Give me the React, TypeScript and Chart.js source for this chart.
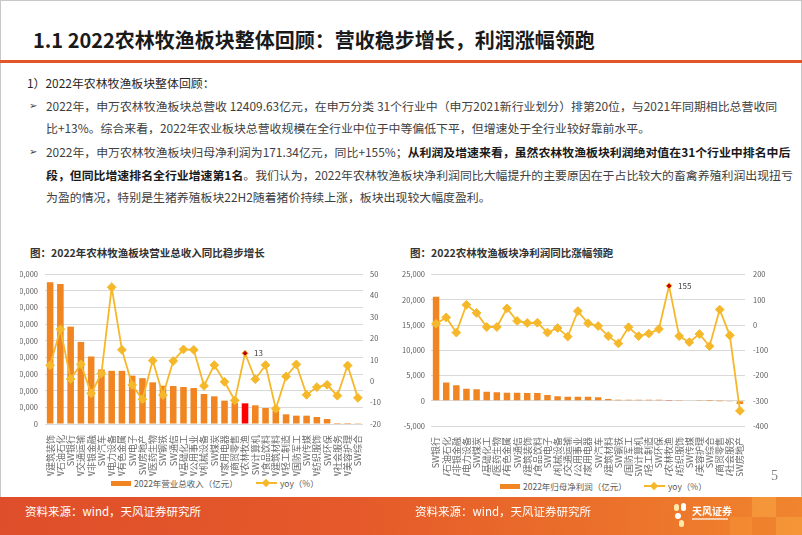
import React, { useEffect, useRef } from "react";
import { Chart, registerables } from "chart.js";

Chart.register(...registerables);

const FONT = '"Noto Sans CJK SC", "Noto Sans", sans-serif';
const BAR = "#F08521";
const BAR_HI = "#FF0000";
const LINE = "#F6B82B";
const GRID = "#D9D9D9";
const TICK = "#595959";
const HIGHLIGHT = "SW农林牧渔";

// ---- Left chart: 2022 revenue (亿元) and yoy (%) ----
const revCategories = [
  "SW建筑装饰", "SW石油石化", "SW银行", "SW交通运输", "SW非银金融", "SW汽车", "SW电力设备",
  "SW有色金属", "SW电子", "SW房地产", "SW医药生物", "SW钢铁", "SW通信", "SW基础化工",
  "SW公用事业", "SW机械设备", "SW煤炭", "SW家用电器", "SW商贸零售", "SW农林牧渔", "SW计算机",
  "SW食品饮料", "SW建筑材料", "SW轻工制造", "SW国防军工", "SW传媒", "SW纺织服饰", "SW环保",
  "SW社会服务", "SW美容护理", "SW综合",
];
const revValues = [
  85000, 84000, 58400, 49200, 40500, 32700, 31900, 31900, 29000, 27500, 25000, 23000, 22800,
  22200, 21600, 18000, 16600, 14000, 12600, 12409.63, 11200, 9600, 8000, 5800, 5000, 5000,
  4200, 3000, 600, 600, 500,
];
const revYoy = [
  7.4, 24.2, 1, 7.9, -5.7, 3.6, 43.8, 14.6, -1.8, -8.5, 9.6, -6.5, 9.4, 14.8, 14.6, -2.2,
  7.5, -0.3, -9, 13, 0.9, 7.5, -12.9, 2.2, 7.8, -6.4, -2.8, -1.7, -6.8, 7.3, -7.8,
];
const revLeftTicks = { min: 0, max: 90000, step: 10000 };
const revRightTicks = { min: -20, max: 50, step: 10 };

// ---- Right chart: 2022 net profit attributable (亿元) and yoy (%) ----
const profCategories = [
  "SW银行", "SW石油石化", "SW非银金融", "SW电力设备", "SW煤炭", "SW基础化工", "SW医药生物",
  "SW有色金属", "SW通信", "SW建筑装饰", "SW食品饮料", "SW电子", "SW机械设备", "SW交通运输",
  "SW公用事业", "SW家用电器", "SW汽车", "SW建筑材料", "SW钢铁", "SW国防军工", "SW计算机",
  "SW轻工制造", "SW环保", "SW农林牧渔", "SW纺织服饰", "SW传媒", "SW美容护理", "SW综合",
  "SW商贸零售", "SW社会服务", "SW房地产",
];
const profValues = [
  20600, 3600, 3070, 2400, 2270, 1800, 1670, 1600, 1600, 1530, 1530, 1130, 870, 800, 800,
  800, 670, 350, 220, 200, 190, 185, 180, 171.34, 130, 90, 60, 10, -20, -40, -650,
];
const profYoy = [
  5, 30, -30, 80, 48, -8, -8, 66, 16, 8, 9, -30, -12, -46, 55, 7, -4, -44, -73, -9, -44,
  -34, -16, 155, -44, -68, -36, -84, 61, -41, -340,
];
const profLeftTicks = { min: -5000, max: 25000, step: 5000 };
const profRightTicks = { min: -400, max: 200, step: 100 };

function pointLabel(idx: number, text: string) {
  return {
    id: "ptLabel",
    afterDatasetsDraw(chart: any) {
      const el = chart.getDatasetMeta(1).data[idx];
      if (!el) return;
      const ctx = chart.ctx;
      ctx.save();
      ctx.font = `8px ${FONT}`;
      ctx.fillStyle = "#404040";
      ctx.textBaseline = "middle";
      ctx.textAlign = "left";
      ctx.fillText(text, el.x + 9, el.y);
      ctx.restore();
    },
  };
}

function buildConfig(
  cats: string[],
  bars: number[],
  yoy: number[],
  barLabel: string,
  lt: { min: number; max: number; step: number },
  rt: { min: number; max: number; step: number },
  leftW: number,
  rightW: number,
  leftPad: number,
  rightPad: number,
  xH: number,
  labelText: string
) {
  const hi = cats.indexOf(HIGHLIGHT);
  const tickFont = { size: 7.5, family: FONT };
  return {
    type: "bar",
    data: {
      labels: cats,
      datasets: [
        {
          type: "bar",
          label: barLabel,
          data: bars,
          backgroundColor: cats.map((c) => (c === HIGHLIGHT ? BAR_HI : BAR)),
          yAxisID: "y",
          order: 1,
          barPercentage: 0.64,
          categoryPercentage: 1,
        },
        {
          type: "line",
          label: "yoy（%）",
          data: yoy,
          borderColor: LINE,
          backgroundColor: LINE,
          borderWidth: 1.8,
          pointStyle: "rectRot",
          pointRadius: cats.map((_, i) => (i === hi ? 3 : 4.4)),
          pointBackgroundColor: cats.map((_, i) => (i === hi ? "#C00000" : LINE)),
          pointBorderColor: LINE,
          pointBorderWidth: 1,
          yAxisID: "y1",
          order: 0,
          tension: 0,
        },
      ],
    },
    options: {
      animation: false,
      responsive: false,
      maintainAspectRatio: false,
      devicePixelRatio: 1,
      layout: { padding: { top: 12, left: 0, right: 0, bottom: 0 } },
      plugins: { legend: { display: false }, tooltip: { enabled: false } },
      scales: {
        x: {
          grid: { display: false },
          border: { display: false },
          ticks: {
            autoSkip: false,
            maxRotation: 90,
            minRotation: 90,
            font: { size: 9, family: FONT },
            color: "#6a6a6a",
            padding: 3,
          },
          afterFit: (s: any) => {
            s.height = xH;
          },
        },
        y: {
          position: "left",
          min: lt.min,
          max: lt.max,
          ticks: {
            stepSize: lt.step,
            callback: (v: any) => Number(v).toLocaleString("en-US"),
            font: tickFont,
            color: TICK,
            padding: leftPad,
          },
          grid: { color: GRID, drawTicks: false, lineWidth: 1 },
          border: { display: false },
          afterFit: (s: any) => {
            s.width = leftW;
          },
        },
        y1: {
          position: "right",
          min: rt.min,
          max: rt.max,
          ticks: { stepSize: rt.step, font: tickFont, color: TICK, padding: rightPad },
          grid: { display: false, drawTicks: false },
          border: { display: false },
          afterFit: (s: any) => {
            s.width = rightW;
          },
        },
      },
    },
    plugins: [pointLabel(hi, labelText)],
  };
}

function ChartCanvas(props: { left: number; top: number; width: number; height: number; config: any }) {
  const ref = useRef<HTMLCanvasElement | null>(null);
  useEffect(() => {
    if (!ref.current) return;
    const chart = new Chart(ref.current, props.config);
    return () => chart.destroy();
  }, []);
  return (
    <canvas
      ref={ref}
      width={props.width}
      height={props.height}
      style={{
        position: "absolute",
        left: props.left,
        top: props.top,
        width: props.width,
        height: props.height,
      }}
    />
  );
}

function Legend(props: { left: number; top: number; barText: string; gap: number }) {
  return (
    <div
      style={{
        position: "absolute",
        left: props.left,
        top: props.top,
        display: "flex",
        alignItems: "center",
        fontFamily: FONT,
        fontSize: 8.5,
        color: TICK,
        whiteSpace: "nowrap",
        height: 12,
      }}
    >
      <span style={{ display: "inline-block", width: 20, height: 5, background: BAR, marginRight: 3 }} />
      <span>{props.barText}</span>
      <span
        style={{
          position: "relative",
          display: "inline-block",
          width: 21,
          height: 10,
          marginLeft: props.gap,
          marginRight: 3,
        }}
      >
        <span style={{ position: "absolute", left: 0, top: 4, width: 21, height: 2, background: LINE }} />
        <span
          style={{
            position: "absolute",
            left: 7.5,
            top: 2,
            width: 6,
            height: 6,
            background: LINE,
            transform: "rotate(45deg)",
          }}
        />
      </span>
      <span>yoy（%）</span>
    </div>
  );
}

const line = (top: number, left: number, content: React.ReactNode, extra: any = {}) => (
  <div
    style={{
      position: "absolute",
      left,
      top: top - 9,
      height: 18,
      lineHeight: "18px",
      fontSize: 11.9,
      color: "#404040",
      whiteSpace: "nowrap",
      fontFamily: FONT,
      ...extra,
    }}
  >
    {content}
  </div>
);

const bullet = (top: number) => (
  <div
    style={{
      position: "absolute",
      left: 29,
      top: top - 9,
      height: 18,
      lineHeight: "18px",
      fontSize: 10,
      color: "#404040",
      fontFamily: '"DejaVu Sans", sans-serif',
    }}
  >
    ➢
  </div>
);

export default function App() {
  const leftCfg = buildConfig(
    revCategories, revValues, revYoy, "2022年营业总收入（亿元）",
    revLeftTicks, revRightTicks, 25, 25, 7, 7, 52, "13"
  );
  const rightCfg = buildConfig(
    profCategories, profValues, profYoy, "2022年归母净利润（亿元）",
    profLeftTicks, profRightTicks, 31, 30, 6, 8, 50, "155"
  );
  const B = { fontWeight: 700, color: "#1a1a1a" };
  return (
    <div
      style={{
        position: "fixed",
        left: 0,
        top: 0,
        width: 802,
        height: 535,
        background: "#ffffff",
        overflow: "hidden",
        fontFamily: FONT,
      }}
    >
      {/* border */}
      <div style={{ position: "absolute", left: 0, top: 0, width: 800, height: 533, border: "1px solid #c8c8c8" }} />
      {/* title */}
      <div
        style={{
          position: "absolute",
          left: 33,
          top: 26,
          fontSize: 20,
          fontWeight: 700,
          color: "#1a1a1a",
          whiteSpace: "nowrap",
          lineHeight: "28px",
        }}
      >
        1.1 2022农林牧渔板块整体回顾：营收稳步增长，利润涨幅领跑
      </div>
      <div style={{ position: "absolute", left: 0, top: 60, width: 802, height: 3, background: "#E2572A" }} />

      {/* body text */}
      {line(83, 27, "1）2022年农林牧渔板块整体回顾：", { color: "#262626" })}
      {bullet(106)}
      {line(106, 46, "2022年，申万农林牧渔板块总营收 12409.63亿元，在申万分类 31个行业中（申万2021新行业划分）排第20位，与2021年同期相比总营收同")}
      {line(128, 46, "比+13%。综合来看，2022年农业板块总营收规模在全行业中位于中等偏低下平，但增速处于全行业较好靠前水平。")}
      {bullet(152)}
      {line(
        152,
        46,
        <>
          2022年，申万农林牧渔板块归母净利润为171.34亿元，同比+155%；
          <span style={B}>从利润及增速来看，虽然农林牧渔板块利润绝对值在31个行业中排名中后</span>
        </>
      )}
      {line(
        175,
        46,
        <>
          <span style={B}>段，但同比增速排名全行业增速第1名</span>
          。我们认为，2022年农林牧渔板块净利润同比大幅提升的主要原因在于占比较大的畜禽养殖利润出现扭亏
        </>
      )}
      {line(197, 46, "为盈的情况，特别是生猪养殖板块22H2随着猪价持续上涨，板块出现较大幅度盈利。")}

      {/* chart titles */}
      <div style={{ position: "absolute", left: 30, top: 245, fontSize: 10.5, fontWeight: 700, color: "#333", whiteSpace: "nowrap", lineHeight: "16px" }}>
        图：2022年农林牧渔板块营业总收入同比稳步增长
      </div>
      <div style={{ position: "absolute", left: 410, top: 245, fontSize: 10.5, fontWeight: 700, color: "#333", whiteSpace: "nowrap", lineHeight: "16px" }}>
        图：2022农林牧渔板块净利润同比涨幅领跑
      </div>

      <ChartCanvas left={20} top={262} width={368} height={214} config={leftCfg} />
      <ChartCanvas left={400} top={262} width={375} height={214} config={rightCfg} />

      <Legend left={111} top={477} barText="2022年营业总收入（亿元）" gap={18} />
      <Legend left={500} top={480} barText="2022年归母净利润（亿元）" gap={17} />

      <div style={{ position: "absolute", left: 771, top: 468, fontSize: 14, color: "#808080", fontFamily: '"Liberation Serif", serif' }}>5</div>

      {/* footer */}
      <div
        style={{
          position: "absolute",
          left: 0,
          top: 497,
          width: 802,
          height: 38,
          background: "linear-gradient(90deg, #DF4E2A 0%, #E55A2A 45%, #EC742B 80%, #F0852E 100%)",
        }}
      />
      <div style={{ position: "absolute", left: 752, top: 497, width: 24, height: 20, background: "rgba(255,190,80,0.35)" }} />
      <div style={{ position: "absolute", left: 776, top: 517, width: 26, height: 18, background: "rgba(255,190,80,0.3)" }} />
      <div style={{ position: "absolute", left: 730, top: 517, width: 22, height: 18, background: "rgba(255,170,60,0.25)" }} />
      <div style={{ position: "absolute", left: 25, top: 503, fontSize: 11.5, color: "#ffffff", whiteSpace: "nowrap", lineHeight: "16px" }}>
        资料来源：wind，天风证券研究所
      </div>
      <div style={{ position: "absolute", left: 415, top: 503, fontSize: 11.5, color: "#ffffff", whiteSpace: "nowrap", lineHeight: "16px" }}>
        资料来源：wind，天风证券研究所
      </div>
      {/* logo */}
      <div style={{ position: "absolute", left: 674, top: 504, width: 5, height: 7, borderRadius: 3, background: "#FFE9A8" }} />
      <div style={{ position: "absolute", left: 681, top: 503, width: 5, height: 8, borderRadius: 3, background: "#ffffff" }} />
      <div style={{ position: "absolute", left: 675, top: 513, width: 6, height: 6, borderRadius: 3, background: "#ffffff" }} />
      <div style={{ position: "absolute", left: 679, top: 520, width: 5, height: 7, borderRadius: 3, background: "#FFE9A8" }} />
      <div style={{ position: "absolute", left: 692, top: 504, fontSize: 10, fontWeight: 700, color: "#ffffff", whiteSpace: "nowrap", lineHeight: "13px" }}>
        天风证券
      </div>
      <div style={{ position: "absolute", left: 692, top: 518, width: 36, height: 2, background: "rgba(255,255,255,0.6)" }} />
    </div>
  );
}
